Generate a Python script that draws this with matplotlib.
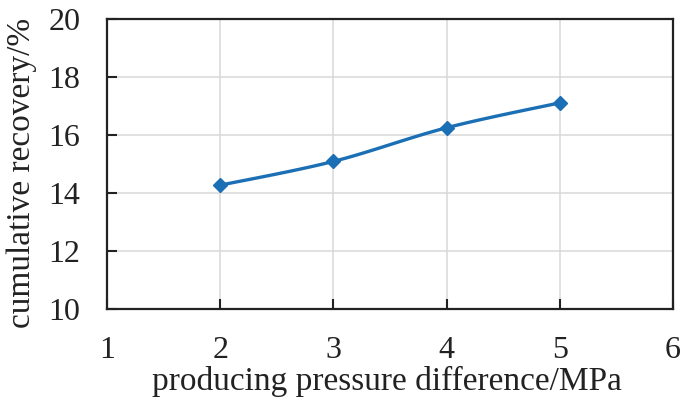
import numpy as np
import matplotlib
matplotlib.use("Agg")
import matplotlib.pyplot as plt

pressure_diff = [2, 3, 4, 5]
recovery = [14.28, 15.10, 16.26, 17.12]
x_ticks = [1, 2, 3, 4, 5, 6]
y_ticks = [10, 12, 14, 16, 18, 20]

plt.rcParams['font.family'] = ['Liberation Serif', 'DejaVu Serif']

def smooth(xs, ys, n=30):
    xs = np.asarray(xs, float); ys = np.asarray(ys, float)
    P = np.column_stack([xs, ys])
    P = np.vstack([P[0], P, P[-1]])
    out = []
    for i in range(1, len(P) - 2):
        p0, p1, p2, p3 = P[i-1], P[i], P[i+1], P[i+2]
        t = np.linspace(0, 1, n)[:, None]
        seg = 0.5 * ((2*p1) + (-p0 + p2)*t + (2*p0 - 5*p1 + 4*p2 - p3)*t**2 + (-p0 + 3*p1 - 3*p2 + p3)*t**3)
        out.append(seg)
    S = np.vstack(out)
    return S[:, 0], S[:, 1]

W, H = 684, 405
fig = plt.figure(figsize=(W/100, H/100), dpi=100)
ax = fig.add_axes([107/W, 1 - 309.3/H, (673-107)/W, (309.3-19.3)/H])

color = '#1B6FB5'
sx, sy = smooth(pressure_diff, recovery)
ax.plot(sx, sy, color=color, lw=2.4, zorder=3)
ax.plot(pressure_diff, recovery, linestyle='none', marker='D', ms=7.5, color=color, zorder=4)

ax.set_xlim(1, 6)
ax.set_ylim(10, 20)
ax.set_xticks(x_ticks)
ax.set_yticks(y_ticks)
ax.grid(True, color='#D9D9D9', lw=1.1)
ax.set_axisbelow(True)
for s in ax.spines.values():
    s.set_color('#222222')
    s.set_linewidth(1.6)
ax.tick_params(direction='in', length=7, width=1.5, colors='#222222', labelsize=23, pad=19)
ax.tick_params(axis='y', pad=19)

fig.text(387/W, 1 - 390/H, 'producing pressure difference/MPa', fontsize=24,
         ha='center', va='baseline', color='#222222')
fig.text(22/W, 1 - 173/H, 'cumulative recovery/%', fontsize=24, rotation=90,
         ha='center', va='center', color='#222222')

fig.savefig('out.png', dpi=100)
